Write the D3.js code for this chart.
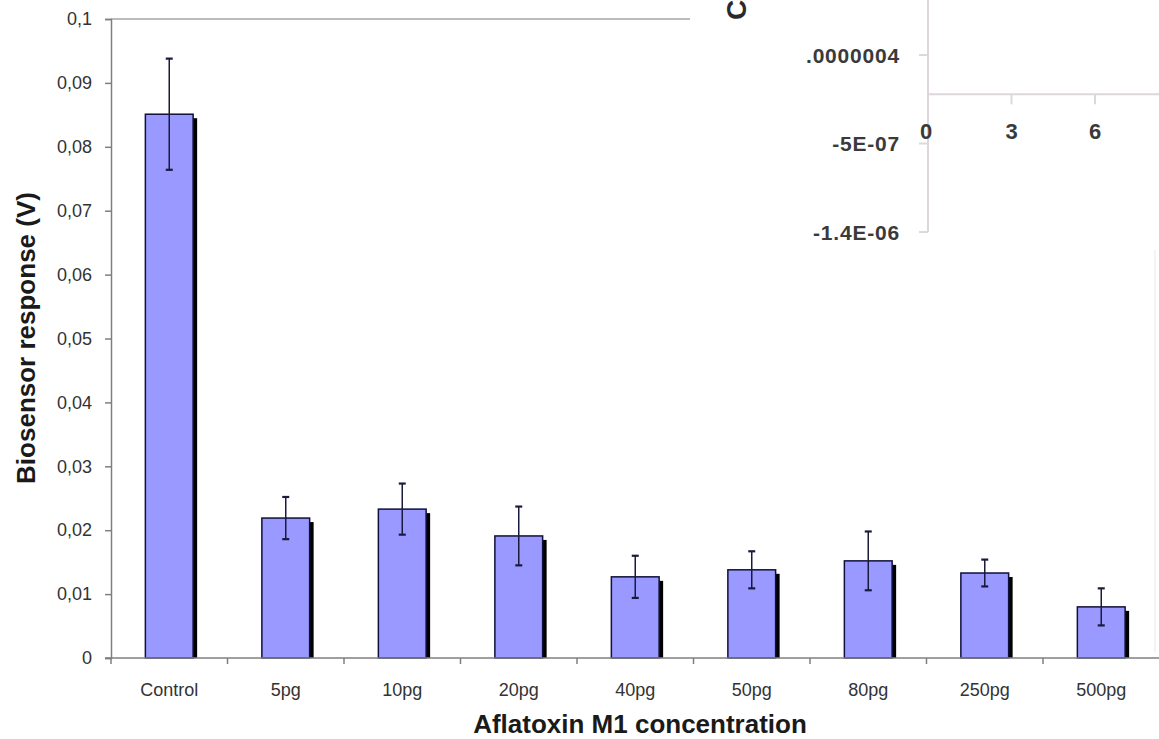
<!DOCTYPE html>
<html>
<head>
<meta charset="utf-8">
<script src="https://cdn.jsdelivr.net/npm/d3@7"></script>
<style>
  html, body { margin: 0; padding: 0; background: #fff; }
  svg { display: block; font-family: "Liberation Sans", Arial, sans-serif; }
</style>
</head>
<body>
<svg id="chart" width="1159" height="739"></svg>
<script>
// Biosensor response for each aflatoxin M1 concentration (mean and error)
const categories = ["Control", "5pg", "10pg", "20pg", "40pg", "50pg", "80pg", "250pg", "500pg"];
const responses = [0.0851, 0.0219, 0.0233, 0.0191, 0.0127, 0.0138, 0.0152, 0.0133, 0.0080];
const errors = [0.0087, 0.0033, 0.0040, 0.0046, 0.0033, 0.0029, 0.0046, 0.0021, 0.0029];
const yTicks = [0, 0.01, 0.02, 0.03, 0.04, 0.05, 0.06, 0.07, 0.08, 0.09, 0.1];

// Small overlapping panel in the upper right corner
const insetXTicks = [0, 3, 6];
const insetYTicks = [4e-7, -5e-7, -1.4e-6];
const insetYLabels = [".0000004", "-5E-07", "-1.4E-06"];
const insetTitle = "C";

const svg = d3.select("#chart");
const plot = { left: 111, right: 1159.5, top: 19, bottom: 658 };

const x = d3.scaleBand()
  .domain(categories)
  .range([plot.left, plot.right])
  .paddingInner(0.59)
  .paddingOuter(0.295);

const y = d3.scaleLinear().domain([0, 0.1]).range([plot.bottom, plot.top]);

const comma = d3.formatLocale({ decimal: ",", thousands: ".", grouping: [3], currency: ["", ""] });
const fmt = comma.format(".2~f");

// plot-area top border
svg.append("line")
  .attr("x1", plot.left).attr("x2", 700)
  .attr("y1", plot.top).attr("y2", plot.top)
  .attr("stroke", "#a6a6a6").attr("stroke-width", 1.5);

// bars with drop shadow
const rows = categories.map((c, i) => ({ c, v: responses[i], e: errors[i] }));
const g = svg.append("g");
g.selectAll("rect.shadow").data(rows).join("rect")
  .attr("class", "shadow")
  .attr("x", d => x(d.c) + 4)
  .attr("y", d => y(d.v) + 4)
  .attr("width", x.bandwidth())
  .attr("height", d => y(0) - y(d.v) - 4)
  .attr("fill", "#000");
g.selectAll("rect.bar").data(rows).join("rect")
  .attr("class", "bar")
  .attr("x", d => x(d.c))
  .attr("y", d => y(d.v))
  .attr("width", x.bandwidth())
  .attr("height", d => y(0) - y(d.v))
  .attr("fill", "#9999ff")
  .attr("stroke", "#10103a")
  .attr("stroke-width", 1.5);

// error bars
const cx = d => x(d.c) + x.bandwidth() / 2;
const eb = g.selectAll("g.err").data(rows).join("g").attr("class", "err")
  .attr("stroke", "#1a1a3c").attr("stroke-width", 1.5);
eb.append("line")
  .attr("x1", cx).attr("x2", cx)
  .attr("y1", d => y(d.v + d.e)).attr("y2", d => y(d.v - d.e));
eb.append("line")
  .attr("x1", d => cx(d) - 3.5).attr("x2", d => cx(d) + 3.5)
  .attr("y1", d => y(d.v + d.e)).attr("y2", d => y(d.v + d.e)).attr("stroke-width", 2.2);
eb.append("line")
  .attr("x1", d => cx(d) - 3.5).attr("x2", d => cx(d) + 3.5)
  .attr("y1", d => y(d.v - d.e)).attr("y2", d => y(d.v - d.e)).attr("stroke-width", 2.2);

// y axis
const yAxis = svg.append("g")
  .attr("transform", `translate(${plot.left},0)`)
  .call(d3.axisLeft(y).tickValues(yTicks).tickFormat(fmt).tickSize(6).tickPadding(13));
yAxis.select(".domain").attr("stroke", "#7f7f7f").attr("stroke-width", 1.5);
yAxis.selectAll(".tick line").attr("stroke", "#7f7f7f").attr("stroke-width", 1.5);
yAxis.selectAll(".tick text").attr("font-size", 18).attr("fill", "#333");

// x axis: ticks sit on the boundaries between categories
const xAxis = svg.append("g").attr("transform", `translate(0,${plot.bottom})`);
xAxis.append("line")
  .attr("x1", plot.left - 6).attr("x2", plot.right)
  .attr("stroke", "#7f7f7f").attr("stroke-width", 1.5);
xAxis.selectAll("line.sep").data(categories).join("line")
  .attr("class", "sep")
  .attr("x1", d => x(d) - (x.step() - x.bandwidth()) / 2)
  .attr("x2", d => x(d) - (x.step() - x.bandwidth()) / 2)
  .attr("y1", 0).attr("y2", 6)
  .attr("stroke", "#7f7f7f").attr("stroke-width", 1.5);
xAxis.selectAll("text").data(categories).join("text")
  .attr("x", d => x(d) + x.bandwidth() / 2)
  .attr("y", 38)
  .attr("text-anchor", "middle")
  .attr("font-size", 18)
  .attr("fill", "#333")
  .text(d => d);

// axis titles
svg.append("text")
  .attr("x", 640).attr("y", 733)
  .attr("text-anchor", "middle")
  .attr("font-size", 26).attr("font-weight", "bold").attr("fill", "#1a1a1a")
  .text("Aflatoxin M1 concentration");
svg.append("text")
  .attr("transform", "translate(35,338) rotate(-90)")
  .attr("text-anchor", "middle")
  .attr("font-size", 26).attr("font-weight", "bold").attr("fill", "#1a1a1a")
  .text("Biosensor response (V)");

// ---- overlapping panel ----
const inset = svg.append("g");
inset.append("rect")
  .attr("x", 690).attr("y", 0).attr("width", 469).attr("height", 246)
  .attr("fill", "#fff");
inset.append("line")
  .attr("x1", 1155).attr("x2", 1155).attr("y1", 250).attr("y2", 652)
  .attr("stroke", "#f0f0f0").attr("stroke-width", 1.5);

const ix = d3.scaleLinear().domain([0, 6]).range([928, 1095]);
const iy = d3.scaleLinear().domain([-1.4e-6, 4e-7]).range([232, 55]);

inset.append("line")
  .attr("x1", ix(0)).attr("x2", ix(0)).attr("y1", 0).attr("y2", iy(-1.4e-6))
  .attr("stroke", "#ddd6dd").attr("stroke-width", 2);
inset.append("line")
  .attr("x1", ix(0)).attr("x2", 1159).attr("y1", iy(0)).attr("y2", iy(0))
  .attr("stroke", "#ddd6dd").attr("stroke-width", 2);

inset.selectAll("line.iyt").data(insetYTicks).join("line")
  .attr("class", "iyt")
  .attr("x1", ix(0) - 9).attr("x2", ix(0))
  .attr("y1", d => iy(d)).attr("y2", d => iy(d))
  .attr("stroke", "#d6dcd6").attr("stroke-width", 2);
inset.selectAll("text.iyl").data(insetYTicks).join("text")
  .attr("class", "iyl")
  .attr("x", 900).attr("y", d => iy(d)).attr("dy", "0.36em")
  .attr("text-anchor", "end")
  .attr("font-size", 21).attr("font-weight", "bold").attr("fill", "#3a3a3a")
  .attr("letter-spacing", 0.8)
  .text((d, i) => insetYLabels[i]);

inset.selectAll("line.ixt").data(insetXTicks.slice(1)).join("line")
  .attr("class", "ixt")
  .attr("x1", d => ix(d)).attr("x2", d => ix(d))
  .attr("y1", iy(0)).attr("y2", iy(0) + 10)
  .attr("stroke", "#d6dcd6").attr("stroke-width", 2);
inset.selectAll("text.ixl").data(insetXTicks).join("text")
  .attr("class", "ixl")
  .attr("x", d => ix(d) - (d === 0 ? 2 : 0)).attr("y", 139)
  .attr("text-anchor", "middle")
  .attr("font-size", 22).attr("font-weight", "bold").attr("fill", "#3a3a3a")
  .text(d => d);

inset.append("text")
  .attr("transform", "translate(746,20) rotate(-90)")
  .attr("text-anchor", "start")
  .attr("font-size", 28).attr("font-weight", "bold").attr("fill", "#2a2a2a")
  .text(insetTitle);
</script>
</body>
</html>
